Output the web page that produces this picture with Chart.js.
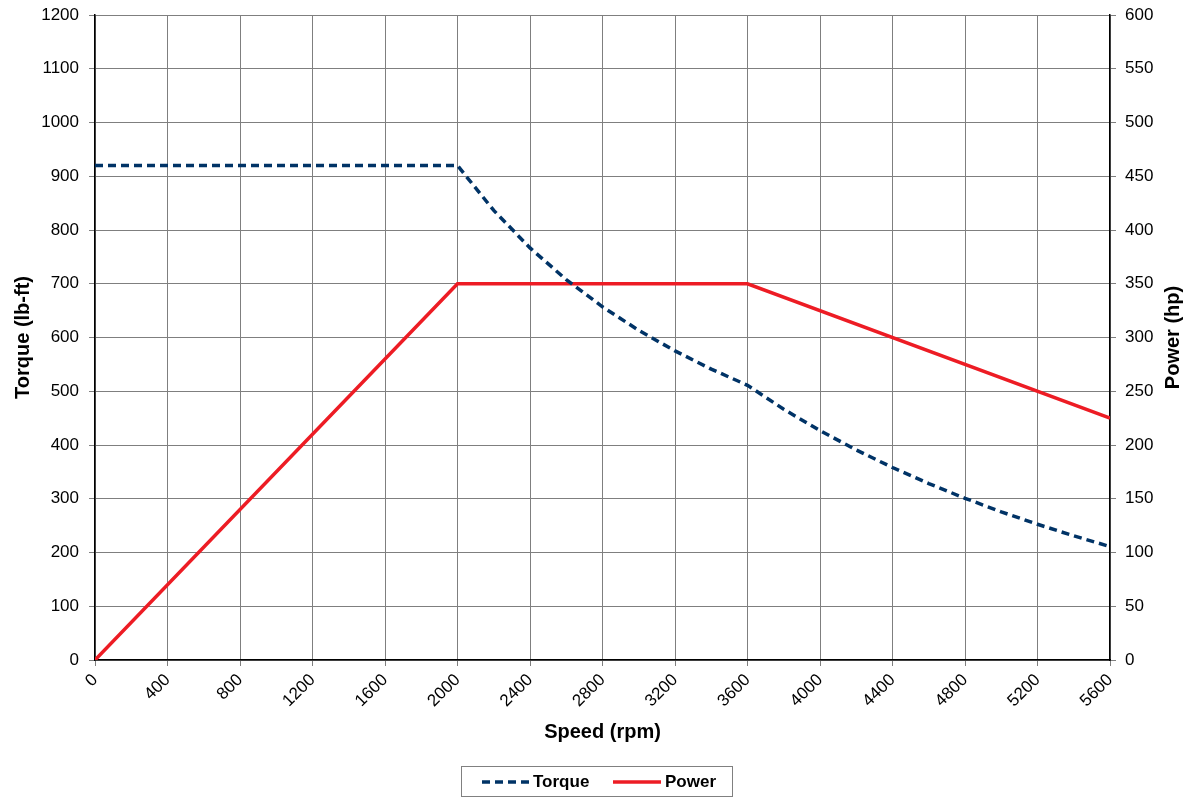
<!DOCTYPE html>
<html>
<head>
<meta charset="utf-8">
<script src="https://cdn.jsdelivr.net/npm/chart.js@4/dist/chart.umd.min.js"></script>
<style>
  html, body { margin: 0; padding: 0; background: #ffffff; }
  #wrap { width: 1189px; height: 798px; position: relative; }
</style>
</head>
<body>
<div id="wrap"><canvas id="c"></canvas></div>
<script>
// Speed (rpm) sample points for torque
const torqueSpeed = [0, 200, 400, 600, 800, 1000, 1200, 1400, 1600, 1800, 2000, 2200, 2400, 2600, 2800, 3000, 3200, 3400, 3600, 3800, 4000, 4200, 4400, 4600, 4800, 5000, 5200, 5400, 5600];
// Torque (lb-ft)
const torqueValues = [920, 920, 920, 920, 920, 920, 920, 920, 920, 920, 920, 836.4, 766.7, 707.7, 657.1, 613.3, 575.0, 541.2, 511.1, 466.5, 426.7, 390.8, 358.1, 328.3, 300.9, 275.7, 252.5, 231.0, 211.0];
// Power (hp) breakpoints
const powerSpeed = [0, 2000, 3600, 5600];
const powerValues = [0, 350, 350, 225];

const seriesNames = ['Torque', 'Power'];
const xTitle = 'Speed (rpm)';
const yLeftTitle = 'Torque (lb-ft)';
const yRightTitle = 'Power (hp)';

const FONT = "'Liberation Sans', Arial, sans-serif";
const torqueColor = '#003366';
const powerColor = '#ed1c24';
const gridColor = '#7f7f7f';

const torqueData = torqueSpeed.map((s, i) => ({ x: s, y: torqueValues[i] }));
const powerData = powerSpeed.map((s, i) => ({ x: s, y: powerValues[i] }));

const plainTick = (v) => String(v);

const legendPlugin = {
  id: 'boxLegend',
  afterDraw(chart) {
    const ctx = chart.ctx;
    ctx.save();
    ctx.fillStyle = '#000000';
    ctx.font = 'bold 20px ' + FONT;
    ctx.textAlign = 'center';
    ctx.textBaseline = 'middle';
    const ca = chart.chartArea;
    ctx.translate(1173, (ca.top + ca.bottom) / 2);
    ctx.rotate(-Math.PI / 2);
    ctx.fillText(yRightTitle, 0, 0);
    ctx.restore();

    ctx.save();
    ctx.strokeStyle = '#808080';
    ctx.lineWidth = 1;
    ctx.strokeRect(461.5, 766.5, 271, 30);
    const yMid = 782;
    ctx.strokeStyle = torqueColor;
    ctx.lineWidth = 3.5;
    ctx.setLineDash([8, 5]);
    ctx.beginPath();
    ctx.moveTo(482, yMid);
    ctx.lineTo(530, yMid);
    ctx.stroke();
    ctx.setLineDash([]);
    ctx.strokeStyle = powerColor;
    ctx.beginPath();
    ctx.moveTo(613, yMid);
    ctx.lineTo(661, yMid);
    ctx.stroke();
    ctx.fillStyle = '#000000';
    ctx.font = 'bold 17px ' + FONT;
    ctx.textBaseline = 'middle';
    ctx.textAlign = 'left';
    ctx.fillText(seriesNames[0], 533, yMid);
    ctx.fillText(seriesNames[1], 665, yMid);
    ctx.restore();
  }
};

function fitVertical(w) {
  return function (scale) {
    scale.width = w;
    scale.paddingTop = 0;
    scale.paddingBottom = 0;
  };
}

new Chart(document.getElementById('c'), {
  type: 'line',
  data: {
    datasets: [
      {
        label: seriesNames[0],
        data: torqueData,
        yAxisID: 'y',
        borderColor: torqueColor,
        backgroundColor: torqueColor,
        borderWidth: 3.5,
        borderDash: [8, 5],
        pointRadius: 0,
        tension: 0,
        fill: false
      },
      {
        label: seriesNames[1],
        data: powerData,
        yAxisID: 'y1',
        borderColor: powerColor,
        backgroundColor: powerColor,
        borderWidth: 3.5,
        pointRadius: 0,
        tension: 0,
        fill: false
      }
    ]
  },
  options: {
    responsive: true,
    maintainAspectRatio: false,
    animation: false,
    layout: { padding: { top: 15, bottom: 48, left: 0, right: 0 } },
    plugins: {
      legend: { display: false },
      tooltip: { enabled: false }
    },
    scales: {
      x: {
        type: 'linear',
        min: 0,
        max: 5600,
        afterFit(scale) { scale.height = 90; },
        ticks: {
          stepSize: 400,
          autoSkip: false,
          maxRotation: 45,
          minRotation: 45,
          padding: 4,
          color: '#000000',
          font: { family: FONT, size: 17 },
          callback: plainTick
        },
        grid: { color: gridColor, lineWidth: 1, tickLength: 6 },
        border: { color: '#000000', width: 1.5 },
        title: {
          display: true,
          text: xTitle,
          color: '#000000',
          font: { family: FONT, size: 20, weight: 'bold' },
          padding: { top: 4, bottom: 6 }
        }
      },
      y: {
        position: 'left',
        min: 0,
        max: 1200,
        afterFit: fitVertical(95),
        ticks: {
          stepSize: 100,
          padding: 10,
          color: '#000000',
          font: { family: FONT, size: 17 },
          callback: plainTick
        },
        grid: { color: gridColor, lineWidth: 1, tickLength: 6 },
        border: { color: '#000000', width: 1.5 },
        title: {
          display: true,
          text: yLeftTitle,
          color: '#000000',
          font: { family: FONT, size: 20, weight: 'bold' },
          padding: { top: 11, bottom: 0 }
        }
      },
      y1: {
        position: 'right',
        min: 0,
        max: 600,
        afterFit: fitVertical(79),
        ticks: {
          stepSize: 50,
          padding: 9,
          color: '#000000',
          font: { family: FONT, size: 17 },
          callback: plainTick
        },
        grid: { drawOnChartArea: false, color: gridColor, lineWidth: 1, tickLength: 6 },
        border: { color: '#000000', width: 1.5 },
        title: { display: false }
      }
    }
  },
  plugins: [legendPlugin]
});
</script>
</body>
</html>
